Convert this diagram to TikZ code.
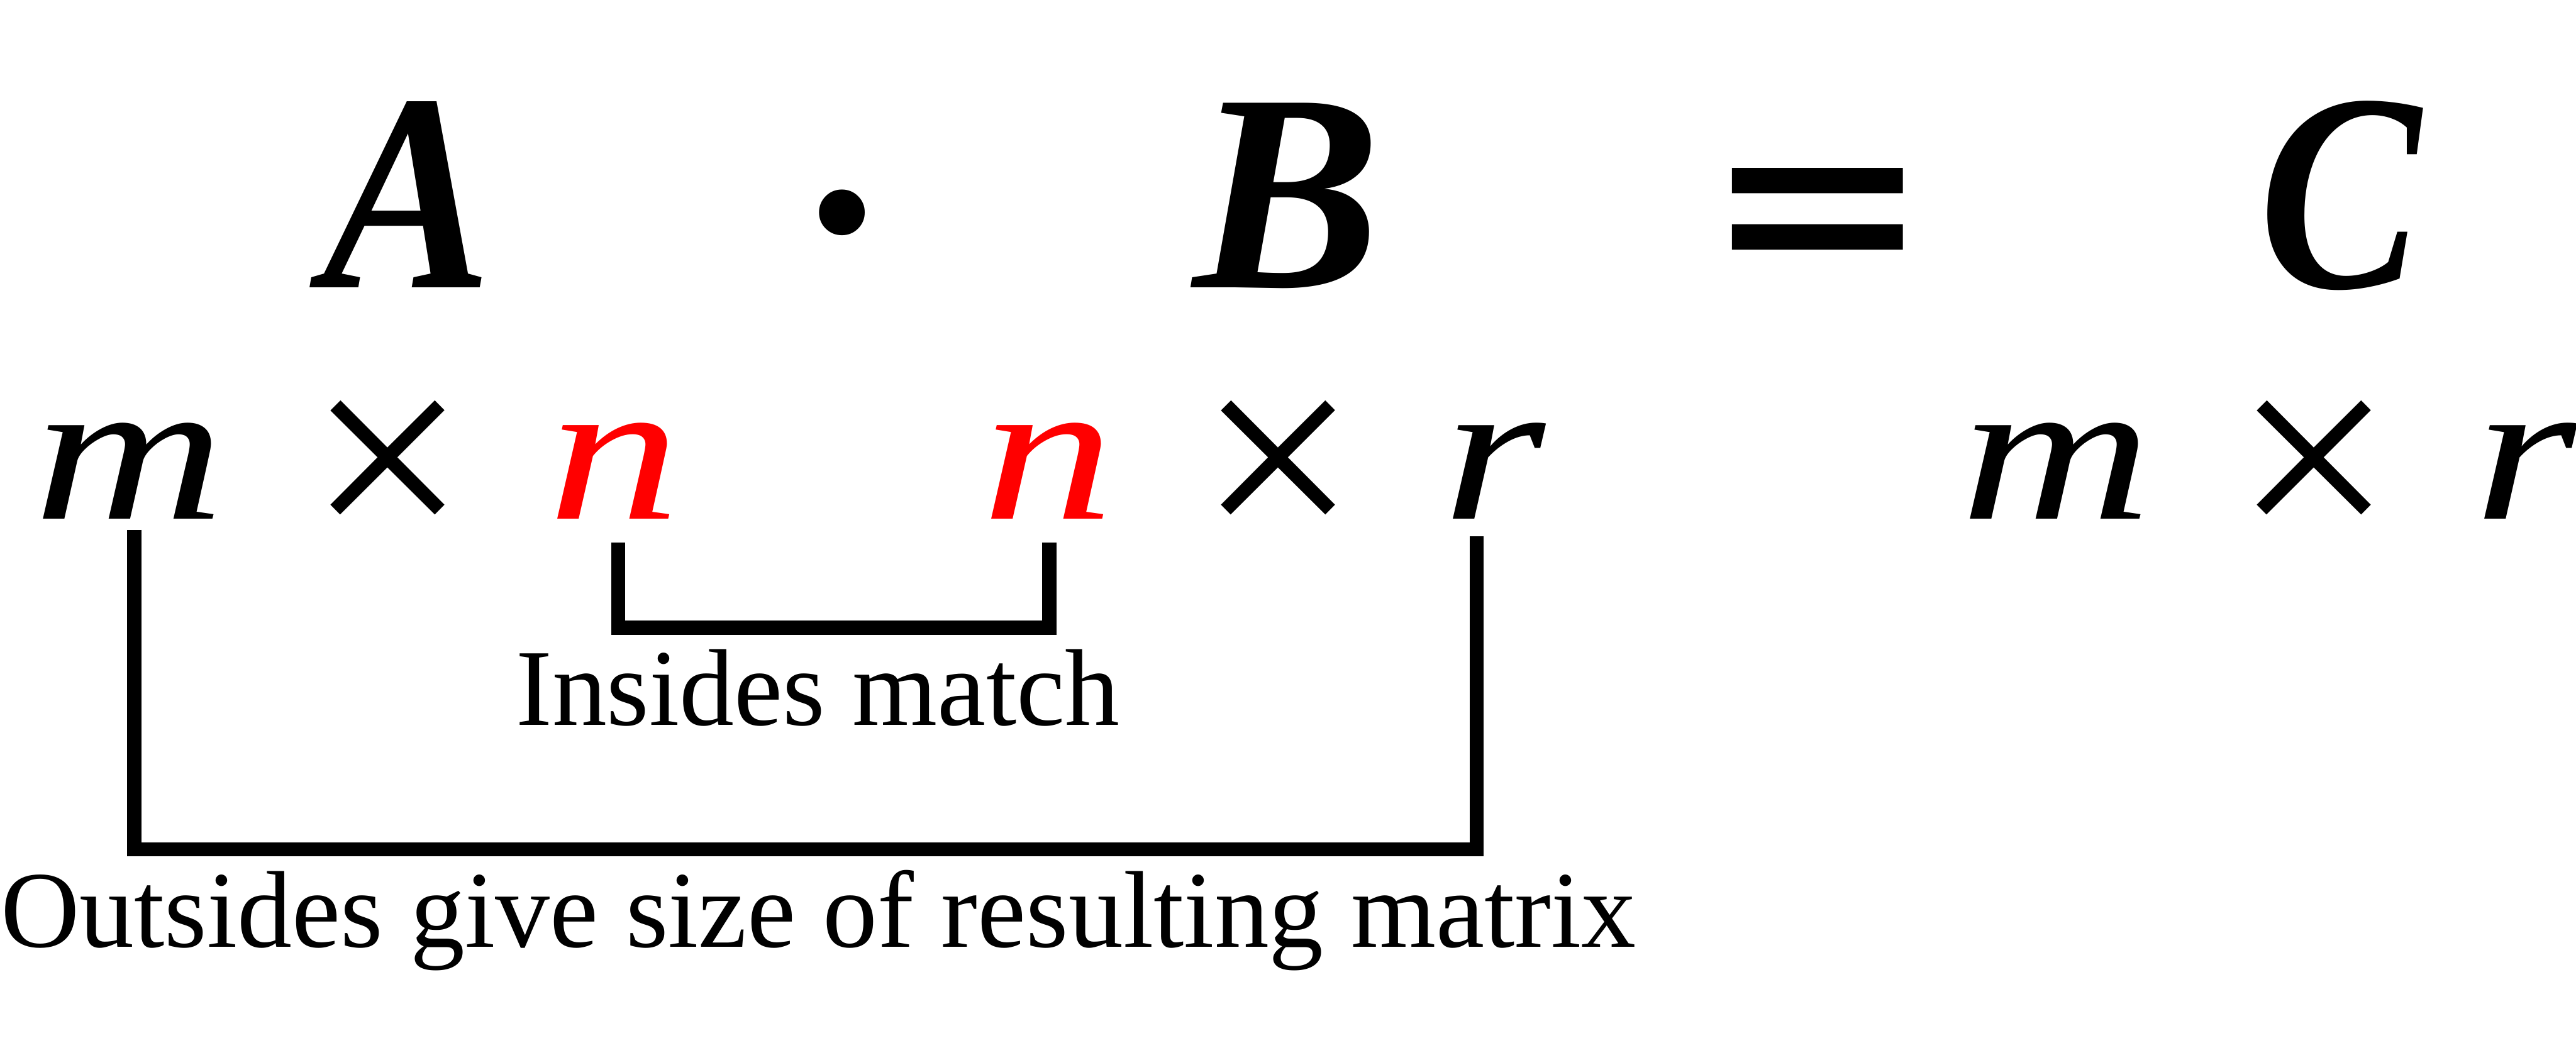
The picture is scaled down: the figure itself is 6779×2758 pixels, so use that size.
\documentclass[tikz,border=0pt]{standalone}
\usepackage{graphicx}
\usepackage{fontspec}
\setmainfont{Liberation Serif}
\newfontfamily\eqfont[FakeBold=2]{Liberation Serif}
\tikzset{
  px/.style={x=0.004cm,y=-0.004cm},
  big/.style={inner sep=0pt,anchor=base,font=\fontsize{84.4pt}{90pt}\selectfont\bfseries\itshape},
  dim/.style={inner sep=0pt,anchor=base,font=\fontsize{61pt}{66pt}\selectfont\itshape},
  times/.style={inner sep=0pt,anchor=base,font=\fontsize{84pt}{90pt}\selectfont},
  lbl/.style={inner sep=0pt,anchor=base,font=\fontsize{32.7pt}{36pt}\selectfont},
  bracket/.style={line width=4.27pt,line join=miter},
}
\newcommand{\wide}[1]{\scalebox{1.3}[1]{#1}}
\begin{document}
\begin{tikzpicture}[px]
\useasboundingbox (0,0) rectangle (6779,2758);
% top row
\node[big] (A) at (1072,757) {\scalebox{0.9}[1]{A}};
\node[inner sep=0pt,anchor=center,font=\fontsize{84.4pt}{90pt}\selectfont\bfseries] (dot) at (2217,652) {·};
\node[big] (B) at (3388,757) {B};
\node[inner sep=0pt,anchor=base,font=\fontsize{84.4pt}{90pt}\selectfont\eqfont\bfseries] (eq) at (4785,796) {\scalebox{1.25}[1]{=}};
\node[big] (C) at (6158,757) {\scalebox{0.86}[1]{C}};
% second row
\node[dim] (m1) at (341,1367) {\wide{m}};
\node[times] (x1) at (1020,1451) {×};
\node[dim,text=red] (n1) at (1617,1367) {\wide{n}};
\node[dim,text=red] (n2) at (2759,1367) {\wide{n}};
\node[times] (x2) at (3364,1451) {×};
\node[dim] (r1) at (3931,1367) {\wide{r}};
\node[dim] (m2) at (5412,1367) {\wide{m}};
\node[times] (x3) at (6090,1451) {×};
\node[dim] (r2) at (6645,1367) {\wide{r}};
% brackets
\coordinate (ilt) at (1627,1429);
\coordinate (ilb) at (1627,1653);
\coordinate (irb) at (2761,1653);
\coordinate (irt) at (2761,1428);
\draw[bracket] (ilt) -- (ilb) -- (irb) -- (irt);
\coordinate (olt) at (353,1395);
\coordinate (olb) at (353,2236);
\coordinate (orb) at (3886,2236);
\coordinate (ort) at (3886,1412);
\draw[bracket] (olt) -- (olb) -- (orb) -- (ort);
% labels
\node[lbl] (ins) at (2152,1909) {Insides match};
\node[lbl,anchor=base west] (outs) at (0,2493) {Outsides give size of resulting matrix};
\end{tikzpicture}
\end{document}
